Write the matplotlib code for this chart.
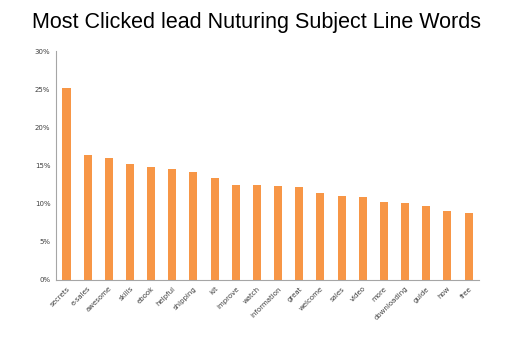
import matplotlib
matplotlib.use("Agg")
import matplotlib.pyplot as plt
from matplotlib.ticker import FuncFormatter

words = ["secrets", "e-sales", "awesome", "skills", "ebook", "helpful", "shipping",
         "kit", "improve", "watch", "information", "great", "welcome", "sales",
         "video", "more", "downloading", "guide", "how", "free"]
clicks = [25.2, 16.4, 16.0, 15.2, 14.85, 14.6, 14.2, 13.4, 12.45, 12.45, 12.3,
          12.2, 11.35, 11.05, 10.9, 10.2, 10.05, 9.75, 9.0, 8.8]

fig = plt.figure(figsize=(5.13, 3.41), dpi=100)
ax = fig.add_axes([0.109, 0.179, 0.825, 0.671])

ax.bar(range(len(words)), clicks, width=0.38, color="#F79646")
ax.set_xlim(-0.5, len(words) - 0.5)
ax.set_ylim(0, 30)
ax.set_yticks(range(0, 31, 5))
ax.yaxis.set_major_formatter(FuncFormatter(lambda v, p: "%d%%" % v))
ax.set_xticks(range(len(words)))
ax.set_xticklabels(words, rotation=45, ha="right", rotation_mode="anchor")

ax.tick_params(length=0, labelsize=5, labelcolor="#404040", pad=4)
for s in ["top", "right"]:
    ax.spines[s].set_visible(False)
for s in ["left", "bottom"]:
    ax.spines[s].set_color("#A6A6A6")
    ax.spines[s].set_linewidth(0.8)

fig.text(0.5, 0.935, "Most Clicked lead Nuturing Subject Line Words",
         ha="center", va="center", fontsize=15.5, family="Liberation Sans")

fig.savefig("out.png", dpi=100)
